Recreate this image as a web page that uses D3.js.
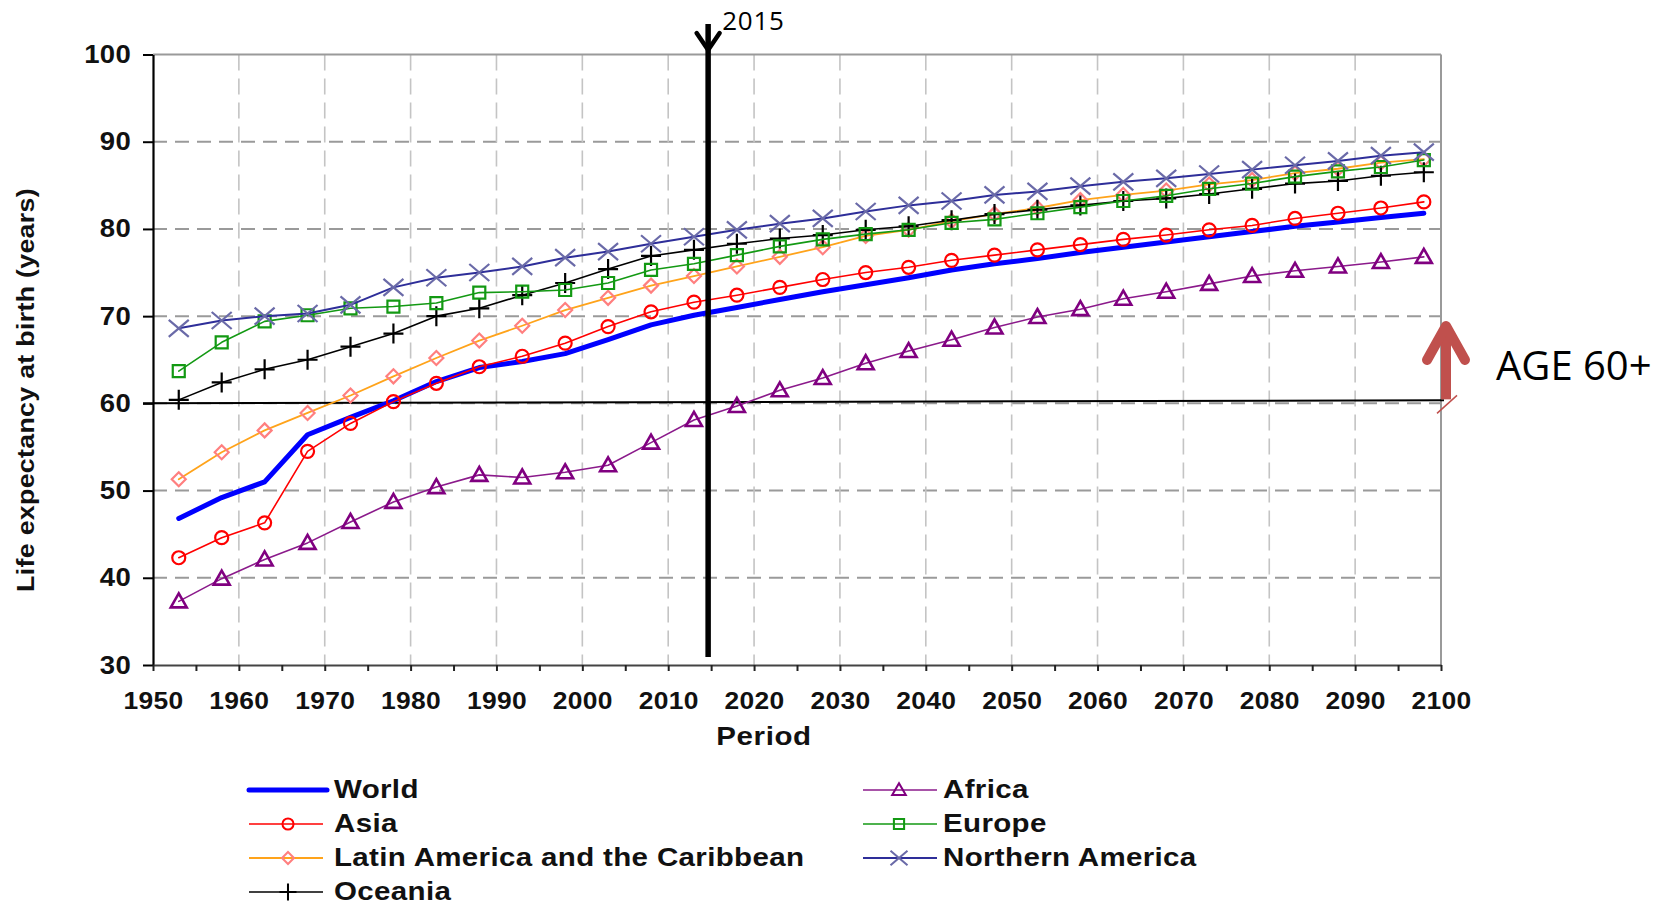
<!DOCTYPE html>
<html>
<head>
<meta charset="utf-8">
<script src="https://cdn.jsdelivr.net/npm/d3@7"></script>
<style>
  body { margin: 0; background: #fff; }
  svg text { font-family: "Liberation Sans", Arial, sans-serif; }
</style>
</head>
<body>
<svg id="chart" width="1675" height="904"></svg>
<script>
// plotted at the (rounded) middle of each 5-year period
var years = [1953, 1958, 1963, 1968, 1973, 1978, 1983, 1988, 1993, 1998,
             2003, 2008, 2013, 2018, 2023, 2028, 2033, 2038, 2043, 2048,
             2053, 2058, 2063, 2068, 2073, 2078, 2083, 2088, 2093, 2098];

var world    = [46.8, 49.2, 51.0, 56.4, 58.4, 60.3, 62.5, 64.1, 64.8, 65.7, 67.3, 69.0, 70.1, 71.0, 71.9, 72.8, 73.6, 74.4, 75.3, 76.0, 76.6, 77.3, 77.9, 78.5, 79.1, 79.7, 80.3, 80.8, 81.3, 81.8];
var asia     = [42.3, 44.6, 46.3, 54.5, 57.7, 60.2, 62.3, 64.2, 65.4, 66.9, 68.8, 70.5, 71.6, 72.4, 73.3, 74.2, 75.0, 75.6, 76.4, 77.0, 77.6, 78.2, 78.8, 79.3, 79.9, 80.4, 81.2, 81.8, 82.4, 83.1];
var latam    = [51.3, 54.4, 56.9, 58.9, 60.9, 63.1, 65.2, 67.2, 68.9, 70.7, 72.1, 73.5, 74.6, 75.7, 76.8, 77.9, 79.2, 79.9, 80.9, 81.7, 82.4, 83.3, 83.9, 84.4, 85.1, 85.6, 86.4, 86.9, 87.6, 88.0];
var oceania  = [60.4, 62.4, 63.9, 65.0, 66.5, 68.0, 70.0, 70.9, 72.4, 73.8, 75.4, 76.9, 77.6, 78.3, 78.9, 79.3, 79.9, 80.3, 81.0, 81.7, 82.2, 82.7, 83.2, 83.5, 84.0, 84.6, 85.2, 85.5, 86.1, 86.5];
var africa   = [37.3, 39.9, 42.1, 44.0, 46.4, 48.7, 50.4, 51.8, 51.5, 52.1, 52.9, 55.5, 58.1, 59.7, 61.5, 62.9, 64.6, 66.0, 67.3, 68.7, 69.9, 70.8, 72.0, 72.8, 73.7, 74.6, 75.2, 75.7, 76.2, 76.8];
var europe   = [63.7, 67.0, 69.4, 70.1, 70.9, 71.1, 71.5, 72.7, 72.8, 73.0, 73.8, 75.3, 76.0, 77.0, 78.0, 78.8, 79.4, 79.9, 80.7, 81.1, 81.8, 82.5, 83.2, 83.8, 84.6, 85.2, 86.0, 86.6, 87.1, 87.9];
var northAm  = [68.6, 69.5, 70.0, 70.3, 71.3, 73.3, 74.4, 75.0, 75.7, 76.7, 77.4, 78.3, 79.1, 79.9, 80.6, 81.2, 82.0, 82.7, 83.2, 83.9, 84.3, 84.9, 85.4, 85.8, 86.3, 86.8, 87.3, 87.8, 88.4, 88.8];

var yTicks = [30, 40, 50, 60, 70, 80, 90, 100];
var xTicks = [1950, 1960, 1970, 1980, 1990, 2000, 2010, 2020, 2030, 2040, 2050, 2060, 2070, 2080, 2090, 2100];
var markerYear = 2015;
var ageLine = 60;

var series = [
  { name: "World", values: world, color: "#0000ff", width: 5, marker: null },
  { name: "Asia", values: asia, color: "#ff0000", width: 1.6, marker: "circle", mcolor: "#ff0000" },
  { name: "Latin America and the Caribbean", values: latam, color: "#ffa31a", width: 1.8, marker: "diamond", mcolor: "#ff7f7f" },
  { name: "Oceania", values: oceania, color: "#000000", width: 1.6, marker: "plus", mcolor: "#000000" },
  { name: "Africa", values: africa, color: "#8b1a8b", width: 1.6, marker: "triangle", mcolor: "#800080" },
  { name: "Europe", values: europe, color: "#139913", width: 1.6, marker: "square", mcolor: "#139913" },
  { name: "Northern America", values: northAm, color: "#2e2e99", width: 2, marker: "cross", mcolor: "#6a6aa8" }
];

var shapes = {
  circle: "M-6.5,0a6.5,6.5 0 1,0 13,0a6.5,6.5 0 1,0 -13,0",
  diamond: "M0,-7L7,0L0,7L-7,0Z",
  plus: "M-10,0H10M0,-10V10",
  triangle: "M0,-8L8,6H-8Z",
  square: "M-6,-6H6V6H-6Z",
  cross: "M-10,-8.5L10,8.5M-10,8.5L10,-8.5"
};

// the source raster is stretched sideways, so text is widened a bit
var wide = 1.18, wideDigits = 1.1;

var svg = d3.select("#chart");

var x = d3.scaleLinear().domain([1950, 2100]).range([153, 1441]);
var y = d3.scaleLinear().domain([30, 100]).range([665, 54.5]);

// grid
svg.append("g").selectAll("line")
  .data(yTicks.slice(1, -1))
  .enter().append("line")
  .attr("x1", x(1950)).attr("x2", x(2100))
  .attr("y1", d => y(d)).attr("y2", d => y(d))
  .attr("stroke", "#9a9a9a").attr("stroke-width", 2)
  .attr("stroke-dasharray", "14,8");

svg.append("g").selectAll("line")
  .data(xTicks.slice(1, -1))
  .enter().append("line")
  .attr("x1", d => x(d)).attr("x2", d => x(d))
  .attr("y1", y(100)).attr("y2", y(30))
  .attr("stroke", "#c4c4c4").attr("stroke-width", 1.6)
  .attr("stroke-dasharray", "16,8");

// frame top / right
svg.append("line")
  .attr("x1", x(1950)).attr("x2", x(2100)).attr("y1", y(100)).attr("y2", y(100))
  .attr("stroke", "#9a9a9a").attr("stroke-width", 2);
svg.append("line")
  .attr("x1", x(2100)).attr("x2", x(2100)).attr("y1", y(100)).attr("y2", y(30))
  .attr("stroke", "#9a9a9a").attr("stroke-width", 2);

// axes
var yAxis = svg.append("g")
  .attr("transform", "translate(" + x(1950) + ",0)")
  .call(d3.axisLeft(y).tickValues(yTicks).tickSize(10).tickPadding(12).tickSizeOuter(0));
yAxis.select(".domain").attr("stroke", "#000").attr("stroke-width", 2.2);
yAxis.selectAll(".tick line").attr("stroke", "#000").attr("stroke-width", 2);
yAxis.selectAll("text")
  .attr("x", -22 / wideDigits)
  .attr("transform", "scale(" + wideDigits + ",1)")
  .attr("font-size", 25).attr("font-weight", "bold").attr("fill", "#111")
  .style("letter-spacing", "0.3px");

var xAxis = svg.append("g")
  .attr("transform", "translate(0," + y(30) + ")")
  .call(d3.axisBottom(x).ticks(30).tickSize(6).tickPadding(21).tickSizeOuter(0)
    .tickFormat(d => xTicks.indexOf(d) >= 0 ? d : ""));
xAxis.select(".domain").attr("stroke", "#444").attr("stroke-width", 2.2);
xAxis.selectAll(".tick line").attr("stroke", "#222").attr("stroke-width", 2);
xAxis.selectAll("text")
  .attr("transform", "scale(" + wideDigits + ",1)")
  .attr("font-size", 24).attr("font-weight", "bold").attr("fill", "#111")
  .style("letter-spacing", "0.3px");

svg.append("text")
  .attr("transform", "translate(764,745) scale(" + wide + ",1)")
  .attr("text-anchor", "middle")
  .attr("font-size", 25).attr("font-weight", "bold").attr("fill", "#111")
  .style("letter-spacing", "0.5px")
  .text("Period");

svg.append("text")
  .attr("transform", "translate(34,390) rotate(-90) scale(" + 1.16 + ",1)")
  .attr("text-anchor", "middle")
  .attr("font-size", 23).attr("font-weight", "bold").attr("fill", "#111")
  .style("letter-spacing", "0.3px")
  .text("Life expectancy at birth (years)");

// 60 years reference line
svg.append("line")
  .attr("x1", x(1950) - 10).attr("x2", x(2100) + 3)
  .attr("y1", y(ageLine)).attr("y2", y(ageLine) - 3)
  .attr("stroke", "#000").attr("stroke-width", 2);

// series
var line = d3.line().x((d, i) => x(years[i])).y(d => y(d));

series.forEach(function(s) {
  svg.append("path")
    .datum(s.values)
    .attr("fill", "none")
    .attr("stroke", s.color)
    .attr("stroke-width", s.width)
    .attr("stroke-linejoin", "round")
    .attr("stroke-linecap", "round")
    .attr("d", line);

  if (!s.marker) return;
  svg.append("g").selectAll("path")
    .data(s.values)
    .enter().append("path")
    .attr("transform", (d, i) => "translate(" + x(years[i]) + "," + y(d) + ")")
    .attr("d", shapes[s.marker])
    .attr("fill", "none")
    .attr("stroke", s.mcolor)
    .attr("stroke-width", s.marker == "triangle" ? 2.6 : 2.2);
});

// 2015 marker
var lx = x(markerYear) - 3;
svg.append("line")
  .attr("x1", lx).attr("x2", lx).attr("y1", 24).attr("y2", 657)
  .attr("stroke", "#000").attr("stroke-width", 5.5);
svg.append("polyline")
  .attr("points", [[lx - 11.5, 33], [lx, 50], [lx + 11.5, 33]].map(p => p.join(",")).join(" "))
  .attr("fill", "none").attr("stroke", "#000").attr("stroke-width", 4.5)
  .attr("stroke-linecap", "round");
svg.append("text")
  .attr("x", lx + 14).attr("y", 30)
  .style("font-family", "'Open Sans', sans-serif")
  .attr("font-size", 26).attr("fill", "#000")
  .style("letter-spacing", "0.8px")
  .text(markerYear);

// AGE 60+ arrow
var ax = x(2100) + 5;
svg.append("line")
  .attr("x1", ax).attr("x2", ax).attr("y1", y(ageLine) - 4).attr("y2", 332)
  .attr("stroke", "#c0504d").attr("stroke-width", 10);
svg.append("polyline")
  .attr("points", [[ax - 19, 360], [ax, 326], [ax + 19, 360]].map(p => p.join(",")).join(" "))
  .attr("fill", "none").attr("stroke", "#c0504d").attr("stroke-width", 10)
  .attr("stroke-linecap", "round").attr("stroke-linejoin", "round");
svg.append("line")
  .attr("x1", ax - 9).attr("x2", ax + 11).attr("y1", y(ageLine) + 10).attr("y2", y(ageLine) - 8)
  .attr("stroke", "#c0504d").attr("stroke-width", 1.5);
svg.append("text")
  .attr("x", ax + 50).attr("y", 380)
  .style("font-family", "'Open Sans', sans-serif")
  .attr("font-size", 40).attr("fill", "#000")
  .text("AGE " + ageLine + "+");

// legend
var legend = svg.append("g").selectAll("g")
  .data(series)
  .enter().append("g")
  .attr("transform", function(d, i) {
    var col = i < 4 ? 0 : 1, row = i < 4 ? i : i - 4;
    return "translate(" + (col ? 863 : 249) + "," + (798 + row * 34) + ")";
  });

legend.append("line")
  .attr("x1", 0).attr("x2", d => d.marker ? 74 : 78)
  .attr("y1", -8).attr("y2", -8)
  .attr("stroke", d => d.color)
  .attr("stroke-width", d => d.width)
  .attr("stroke-linecap", d => d.marker ? "butt" : "round");

legend.filter(d => d.marker).append("path")
  .attr("transform", (d, i) => "translate(" + (d.name == "Asia" || d.name == "Oceania" || d.name.indexOf("Latin") == 0 ? 39 : 36) + ",-8) scale(0.85)")
  .attr("d", d => shapes[d.marker])
  .attr("fill", "none")
  .attr("stroke", d => d.mcolor)
  .attr("stroke-width", 2.4);

legend.append("text")
  .attr("transform", (d, i) => "translate(" + (i < 4 ? 85 : 80) + ",0) scale(" + wide + ",1)")
  .attr("font-size", 25).attr("font-weight", "bold").attr("fill", "#111")
  .style("letter-spacing", "0.3px")
  .text(d => d.name);
</script>
</body>
</html>
